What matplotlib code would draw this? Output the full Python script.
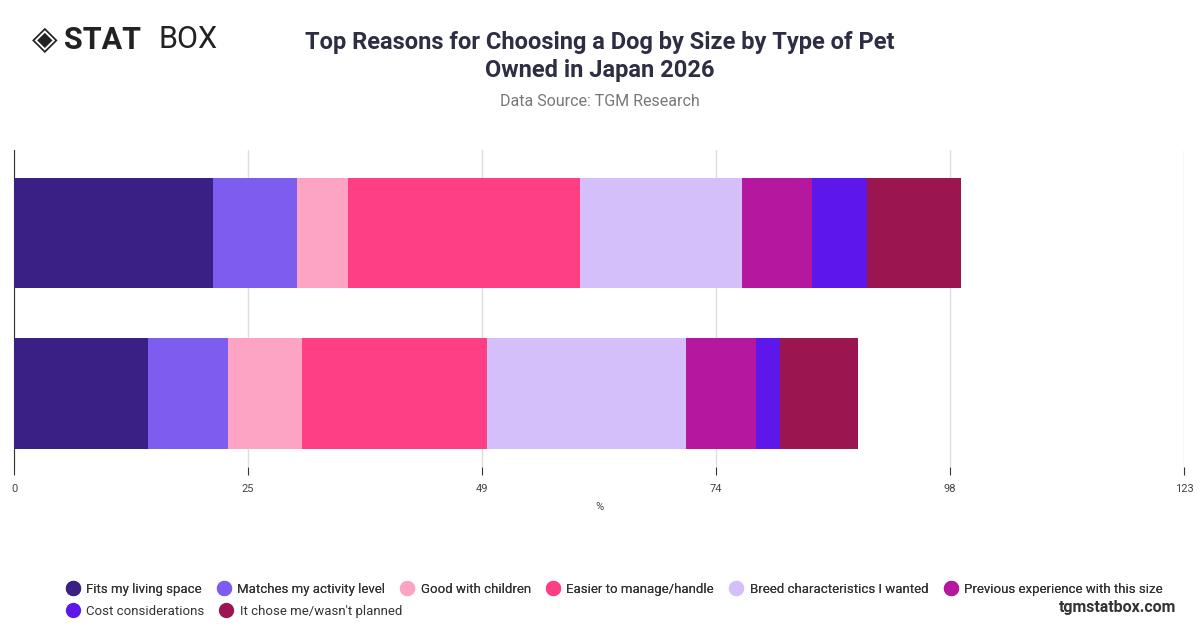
import matplotlib
matplotlib.use("Agg")
import matplotlib.pyplot as plt
import numpy as np

categories = ["Dog owners", "Dog and cat owners"]
series = ["Fits my living space", "Matches my activity level", "Good with children",
          "Easier to manage/handle", "Breed characteristics I wanted",
          "Previous experience with this size", "Cost considerations", "It chose me/wasn't planned"]
values = [
    [20.9, 14.1],
    [8.8, 8.4],
    [5.4, 7.8],
    [24.4, 19.4],
    [17.0, 20.9],
    [7.4, 7.4],
    [5.8, 2.5],
    [9.9, 8.2],
]
colors = ["#3a1f85", "#7d5cf0", "#fda4c4", "#ff3f85", "#d4bffa", "#b5179e", "#5e17eb", "#9b1550"]
ticks = [0, 24.6, 49.2, 73.8, 98.4, 123]
tick_labels = ["0", "25", "49", "74", "98", "123"]

plt.rcParams['font.family'] = ['Roboto', 'DejaVu Sans']
fig = plt.figure(figsize=(12, 6.28), dpi=100)
ax = fig.add_axes([14/1200, 1-467/628, 1170/1200, 317/628])
y = np.array([1, 0])
left = np.zeros(2)
for s, v, c in zip(series, values, colors):
    ax.barh(y, v, left=left, color=c, height=0.69, label=s, zorder=3)
    left += np.array(v)
ax.set_xlim(0, 123)
ax.set_ylim(-0.46, 1.52)
ax.set_xticks(ticks)
ax.set_xticklabels(tick_labels, fontsize=8, color="#444")
ax.set_yticks([])
ax.grid(axis="x", color="#dddddd", lw=1, zorder=0)
for sp in ["top", "right", "bottom"]:
    ax.spines[sp].set_visible(False)
ax.spines["left"].set_color("#333")
ax.tick_params(axis="x", length=6, color="#333", pad=6)
ax.set_xlabel("%", fontsize=8, color="#444", labelpad=6)

fig.text(0.5, 0.91, "Top Reasons for Choosing a Dog by Size by Type of Pet\nOwned in Japan 2026",
         ha="center", va="center", fontsize=17, fontweight="bold", color="#2d2d44", linespacing=1.25)
fig.text(0.5, 0.838, "Data Source: TGM Research", ha="center", va="center", fontsize=11.5, color="#777")
fig.text(0.053, 0.937, "STAT", ha="left", va="center", fontsize=22, fontweight="bold", color="#222")
fig.text(0.132, 0.937, "BOX", ha="left", va="center", fontsize=22, color="#222")
fig.text(0.037, 0.937, "◈", ha="center", va="center", fontsize=24, color="#222")
fig.text(0.98, 0.033, "tgmstatbox.com", ha="right", va="center", fontsize=11.5, fontweight="bold", color="#333")

handles = [plt.Line2D([], [], marker="o", ls="", color=c, markersize=10) for c in colors]
kw = dict(frameon=False, fontsize=9.5, handletextpad=0.5, handlelength=1.0,
          columnspacing=1.2, labelcolor="#333", borderaxespad=0, borderpad=0)
leg1 = fig.legend(handles[:6], series[:6], loc="center left", bbox_to_anchor=(0.055, 0.062), ncol=6, **kw)
fig.add_artist(leg1)
fig.legend(handles[6:], series[6:], loc="center left", bbox_to_anchor=(0.055, 0.027), ncol=2, **kw)
fig.savefig("out.png", dpi=100)
